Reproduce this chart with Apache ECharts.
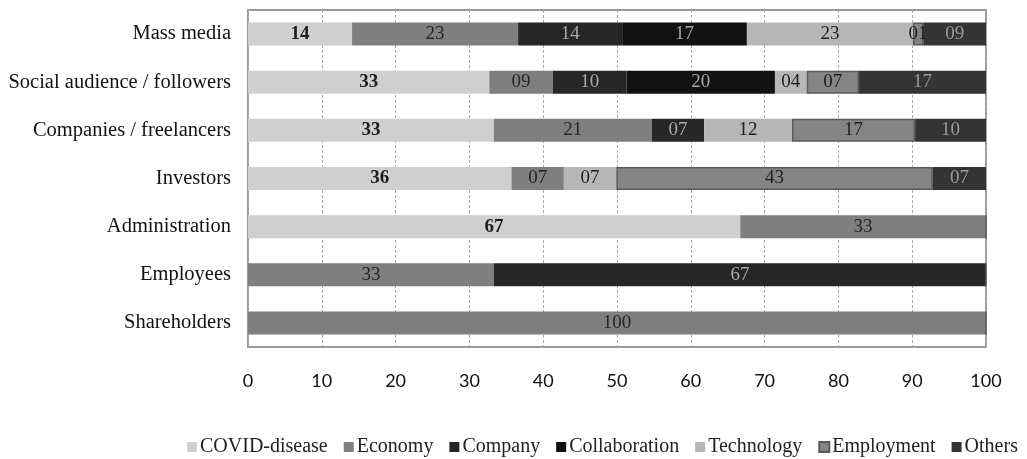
<!DOCTYPE html>
<html>
<head>
<meta charset="utf-8">
<script src="https://cdn.jsdelivr.net/npm/echarts@6/dist/echarts.min.js"></script>
<style>
    html, body { margin: 0; padding: 0; background: #fff; }
    #chart { width: 1027px; height: 459px; }
</style>
</head>
<body>
<div id="chart"></div>
<script>
var categories = ['Mass media', 'Social audience / followers', 'Companies / freelancers', 'Investors', 'Administration', 'Employees', 'Shareholders'];
var xTicks = [0, 10, 20, 30, 40, 50, 60, 70, 80, 90, 100];

// share (%) per category, top to bottom
var covid = [14.1, 32.7, 33.3, 35.7, 66.7, 0, 0];
var economy = [22.5, 8.6, 21.4, 7.1, 33.3, 33.3, 100];
var company = [14.1, 10.0, 7.1, 0, 0, 66.7, 0];
var collaboration = [16.9, 20.1, 0, 0, 0, 0, 0];
var technology = [22.5, 4.3, 11.9, 7.1, 0, 0, 0];
var employment = [1.4, 7.1, 16.7, 42.9, 0, 0, 0];
var others = [8.5, 17.2, 9.6, 7.2, 0, 0, 0];

var serif = '"Liberation Serif", "DejaVu Serif", serif';

function pct(p) {
    if (!p.value) return '';
    var s = String(Math.round(p.value));
    return s.length < 2 ? '0' + s : s;
}

function makeSeries(name, data, color, textColor, extra) {
    var s = {
        name: name,
        type: 'bar',
        stack: 'all',
        barWidth: 23,
        data: data,
        itemStyle: { color: color },
        label: {
            show: true,
            position: 'inside',
            formatter: pct,
            color: textColor,
            fontFamily: serif,
            fontSize: 19
        }
    };
    if (extra) {
        if (extra.border) {
            s.itemStyle.borderColor = extra.border;
            s.itemStyle.borderWidth = 1.5;
        }
        if (extra.bold) s.label.fontWeight = 'bold';
    }
    return s;
}

var chart = echarts.init(document.getElementById('chart'));

var option = {
    animation: false,
    grid: {
        left: 248,
        right: 41,
        top: 10,
        bottom: 112,
        show: true,
        borderColor: '#9a9a9a',
        borderWidth: 2
    },
    legend: {
        top: 432,
        left: 182,
        icon: 'rect',
        itemWidth: 10,
        itemHeight: 10,
        itemGap: 16,
        textStyle: { fontFamily: serif, fontSize: 20, color: '#222', padding: [0, 0, 0, -2] }
    },
    xAxis: {
        type: 'value',
        min: 0,
        max: 100,
        interval: 10,
        axisLine: { show: false },
        axisTick: { show: false },
        axisLabel: {
            margin: 25,
            fontFamily: 'Lato, "Open Sans", sans-serif',
            fontSize: 18,
            color: '#111',
            formatter: function (v) { return xTicks.indexOf(v) >= 0 ? String(v) : ''; }
        },
        splitLine: { lineStyle: { color: '#aaa', type: [3, 2], width: 1 } }
    },
    yAxis: {
        type: 'category',
        inverse: true,
        data: categories,
        axisLine: { show: false },
        axisTick: { show: false },
        axisLabel: { margin: 17, fontFamily: serif, fontSize: 20.5, color: '#111' }
    },
    series: [
        makeSeries('COVID-disease', covid, '#cfcfcf', '#1e1e1e', { bold: true }),
        makeSeries('Economy', economy, '#7f7f7f', '#262626'),
        makeSeries('Company', company, '#262626', '#a8a8a8'),
        makeSeries('Collaboration', collaboration, '#111111', '#a8a8a8'),
        makeSeries('Technology', technology, '#b6b6b6', '#1e1e1e'),
        makeSeries('Employment', employment, '#858585', '#1e1e1e', { border: '#5a5a5a' }),
        makeSeries('Others', others, '#343434', '#9a9a9a')
    ]
};

chart.setOption(option);
</script>
</body>
</html>
